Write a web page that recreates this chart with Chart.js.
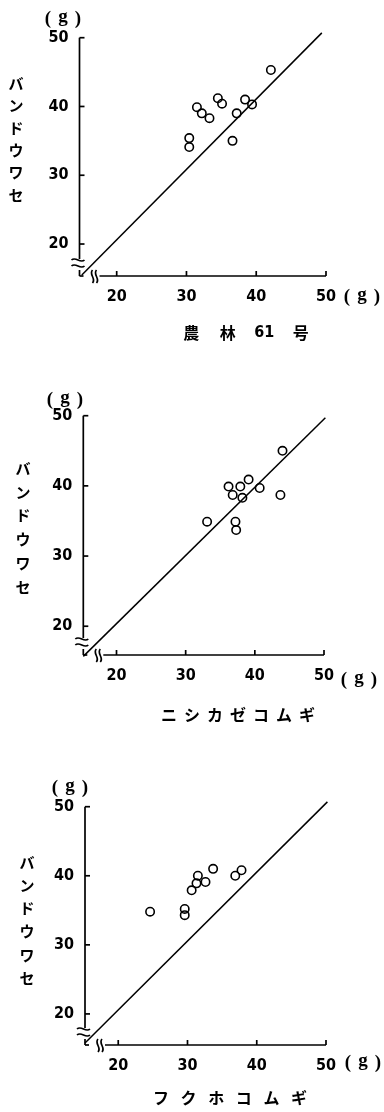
<!DOCTYPE html>
<html>
<head>
<meta charset="utf-8">
<script src="https://cdn.jsdelivr.net/npm/chart.js@4"></script>
<style>
  body { margin: 0; background: #fff; }
  .panel { position: absolute; left: 0; width: 384px; }
</style>
</head>
<body>
<div class="panel" style="top:0"><canvas id="c1" width="384" height="370"></canvas></div>
<div class="panel" style="top:370px"><canvas id="c2" width="384" height="360"></canvas></div>
<div class="panel" style="top:730px"><canvas id="c3" width="384" height="382"></canvas></div>
<script>
// tick labels (g)
const xTicks = [20, 30, 40, 50];
const yTicks = [20, 30, 40, 50];

// 農林61号 vs バンドウワセ
const norinX = [30.4, 30.4, 31.5, 32.2, 33.3, 34.5, 35.1, 36.6, 37.2, 38.4, 39.4, 42.1];
const norinY = [35.4, 34.1, 39.9, 39.0, 38.3, 41.2, 40.4, 35.0, 39.0, 41.0, 40.3, 45.3];
// ニシカゼコムギ vs バンドウワセ
const nishiX = [33.1, 36.2, 36.8, 37.2, 37.3, 37.9, 38.2, 39.1, 40.7, 43.7, 44.0];
const nishiY = [34.9, 39.9, 38.7, 34.9, 33.7, 39.9, 38.3, 40.9, 39.7, 38.7, 45.0];
// フクホコムギ vs バンドウワセ
const fukuX = [24.6, 29.6, 29.6, 30.6, 31.3, 31.5, 32.6, 33.7, 36.9, 37.8];
const fukuY = [34.8, 35.2, 34.3, 37.9, 38.9, 40.0, 39.1, 41.0, 40.0, 40.8];

// 1:1 reference line ends
const norinLineX = [15.0, 49.4], norinLineY = [15.5, 50.7];
const nishiLineX = [15.2, 50.2], nishiLineY = [15.7, 49.7];
const fukuLineX = [15.2, 50.2], fukuLineY = [15.8, 50.7];

const yTitle = 'バンドウワセ';

const panels = [
  { id: 'c1', xs: norinX, ys: norinY, lx: norinLineX, ly: norinLineY,
    xMin: 14.67, yMin: 15.35, padTop: 37.7, padRight: 58, axisW: 79.5, bottom: 276,
    title: ['農', '林', '61', '号'], titleX: 246, titleY: 333, titleStep: 36.5,
    yTitleX: 16, yTitleY0: 83, yTitleStep: 22.4, gTop: [63, 19], gRight: [362, 297] },
  { id: 'c2', xs: nishiX, ys: nishiY, lx: nishiLineX, ly: nishiLineY,
    xMin: 15.2, yMin: 15.9, padTop: 45.7, padRight: 60, axisW: 83.3, bottom: 285,
    title: ['ニ', 'シ', 'カ', 'ゼ', 'コ', 'ム', 'ギ'], titleX: 238, titleY: 345, titleStep: 23,
    yTitleX: 23, yTitleY0: 98, yTitleStep: 23.8, gTop: [65, 30], gRight: [359, 310] },
  { id: 'c3', xs: fukuX, ys: fukuY, lx: fukuLineX, ly: fukuLineY,
    xMin: 15.2, yMin: 15.5, padTop: 76.7, padRight: 58, axisW: 85, bottom: 315,
    title: ['フ', 'ク', 'ホ', 'コ', 'ム', 'ギ'], titleX: 230, titleY: 368, titleStep: 27.6,
    yTitleX: 27, yTitleY0: 132, yTitleStep: 23.2, gTop: [70, 58], gRight: [363, 333] }
];

const numFont = '"Liberation Sans Narrow", "DejaVu Sans Condensed", "Liberation Sans", sans-serif';
const jpFont = '"Noto Sans CJK JP", sans-serif';

function seg(ctx, x1, y1, x2, y2) {
  ctx.beginPath(); ctx.moveTo(x1, y1); ctx.lineTo(x2, y2); ctx.stroke();
}
function hWave(ctx, xa, xb, yc) {
  const w = xb - xa;
  ctx.beginPath(); ctx.moveTo(xa, yc);
  ctx.bezierCurveTo(xa + w / 3, yc - 4, xa + 2 * w / 3, yc + 4, xb, yc);
  ctx.stroke();
}
function vWave(ctx, xc, ya, yb) {
  const h = yb - ya;
  ctx.beginPath(); ctx.moveTo(xc, ya);
  ctx.bezierCurveTo(xc - 4, ya + h / 3, xc + 4, ya + 2 * h / 3, xc, yb);
  ctx.stroke();
}
// "( g )" with wide gaps, drawn piece by piece
function unitLabel(ctx, cx, cy) {
  ctx.font = 'bold 19px "Liberation Serif", serif';
  ctx.fillText('(', cx - 15, cy);
  ctx.fillText('g', cx, cy - 2);
  ctx.fillText(')', cx + 15, cy);
}

// axes with breaks, inward ticks and the hand-set labels
const deco = {
  id: 'deco',
  afterDatasetsDraw(chart, args, o) {
    const { ctx, scales: { x, y } } = chart;
    const x0 = x.left, y0 = y.bottom;
    ctx.save();
    ctx.strokeStyle = '#000';
    ctx.lineWidth = 1.7;
    // y axis, broken near the origin
    seg(ctx, x0, y.getPixelForValue(50), x0, y0 - 17);
    yTicks.forEach(v => { const p = y.getPixelForValue(v); seg(ctx, x0, p, x0 + 5, p); });
    hWave(ctx, x0 - 8, x0 + 5, y0 - 16);
    hWave(ctx, x0 - 8, x0 + 5, y0 - 10);
    seg(ctx, x0, y0 - 6, x0, y0);
    seg(ctx, x0, y0, x0 + 4, y0);
    // x axis, broken near the origin
    vWave(ctx, x0 + 13, y0 - 6, y0 + 7);
    vWave(ctx, x0 + 17, y0 - 6, y0 + 7);
    seg(ctx, x0 + 20, y0, x.getPixelForValue(50), y0);
    xTicks.forEach(v => { const p = x.getPixelForValue(v); seg(ctx, p, y0, p, y0 - 5); });

    ctx.fillStyle = '#000';
    ctx.textAlign = 'center';
    ctx.textBaseline = 'middle';
    unitLabel(ctx, o.gTop[0], o.gTop[1]);
    unitLabel(ctx, o.gRight[0], o.gRight[1]);
    // vertical y title
    ctx.font = 'bold 15px ' + jpFont;
    [...yTitle].forEach((ch, i) => ctx.fillText(ch, o.yTitleX, o.yTitleY0 + i * o.yTitleStep));
    // x title, widely spaced
    const n = o.title.length;
    o.title.forEach((t, i) => {
      ctx.font = /\d/.test(t) ? 'bold 16px ' + numFont : 'bold 16px ' + jpFont;
      ctx.fillText(t, o.titleX + (i - (n - 1) / 2) * o.titleStep, o.titleY);
    });
    ctx.restore();
  }
};

panels.forEach(p => {
  const canvas = document.getElementById(p.id);
  const H = canvas.height;
  new Chart(canvas.getContext('2d'), {
    type: 'scatter',
    data: {
      datasets: [
        {
          data: p.xs.map((v, i) => ({ x: v, y: p.ys[i] })),
          pointRadius: 4.2,
          pointBorderWidth: 1.6,
          pointBorderColor: '#000',
          pointBackgroundColor: 'rgba(0,0,0,0)'
        },
        {
          type: 'line',
          data: p.lx.map((v, i) => ({ x: v, y: p.ly[i] })),
          borderColor: '#000',
          borderWidth: 1.5,
          pointRadius: 0,
          clip: false
        }
      ]
    },
    options: {
      responsive: false,
      animation: false,
      layout: { padding: { top: p.padTop, right: p.padRight, left: 0, bottom: 0 } },
      plugins: { legend: { display: false }, tooltip: { enabled: false }, deco: p },
      scales: {
        x: {
          type: 'linear', min: p.xMin, max: 50,
          grid: { display: false, drawTicks: false },
          border: { display: false },
          afterBuildTicks: s => { s.ticks = xTicks.map(v => ({ value: v })); },
          afterFit: s => { s.height = H - p.bottom; },
          ticks: { padding: 11, color: '#000', maxRotation: 0, font: { size: 16, weight: 'bold', family: numFont } }
        },
        y: {
          type: 'linear', min: p.yMin, max: 50,
          grid: { display: false, drawTicks: false },
          border: { display: false },
          afterBuildTicks: s => { s.ticks = yTicks.map(v => ({ value: v })); },
          afterFit: s => { s.width = p.axisW; },
          ticks: { padding: 11, color: '#000', font: { size: 16, weight: 'bold', family: numFont } }
        }
      }
    },
    plugins: [deco]
  });
});
</script>
</body>
</html>
